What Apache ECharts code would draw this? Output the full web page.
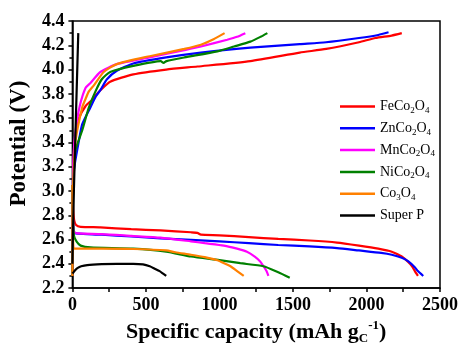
<!DOCTYPE html>
<html>
<head>
<meta charset="utf-8">
<script src="https://cdn.jsdelivr.net/npm/echarts@6/dist/echarts.min.js"></script>
<style>
  html, body { margin: 0; padding: 0; background: #fff; }
  #chart { width: 461px; height: 350px; }
</style>
</head>
<body>
<div id="chart"></div>
<script>
// [capacity, potential] pairs
var feDischarge = [[0,3.05],[2,2.95],[5,2.85],[12,2.76],[25,2.72],[56,2.705],[190,2.70],[400,2.685],[600,2.675],[806,2.66],[850,2.655],[874,2.64],[1000,2.635],[1200,2.62],[1400,2.605],[1613,2.592],[1800,2.575],[1949,2.55],[2080,2.525],[2172,2.50],[2240,2.46],[2280,2.42],[2310,2.38],[2329,2.34],[2350,2.30]];
var feCharge = [[0,2.3],[3,2.9],[8,3.2],[20,3.45],[45,3.6],[90,3.7],[134,3.75],[160,3.79],[190,3.83],[257,3.9],[414,3.96],[638,4.0],[850,4.025],[1210,4.07],[1546,4.14],[1726,4.17],[1949,4.225],[2061,4.26],[2171,4.28],[2240,4.30]];

var znDischarge = [[0,3.05],[3,2.8],[8,2.68],[15,2.655],[40,2.648],[200,2.64],[400,2.625],[600,2.61],[806,2.598],[1000,2.585],[1200,2.57],[1400,2.555],[1613,2.544],[1800,2.53],[1949,2.51],[2100,2.49],[2172,2.475],[2240,2.45],[2285,2.42],[2330,2.37],[2350,2.34],[2386,2.30]];
var znCharge = [[0,2.3],[3,2.9],[8,3.15],[20,3.25],[45,3.42],[67,3.55],[123,3.69],[160,3.78],[190,3.83],[235,3.92],[302,3.99],[414,4.05],[638,4.1],[874,4.14],[1210,4.18],[1546,4.21],[1725,4.225],[1949,4.26],[2080,4.285],[2150,4.307]];

var mnDischarge = [[0,3.05],[3,2.8],[8,2.68],[15,2.66],[40,2.65],[200,2.645],[400,2.63],[600,2.615],[806,2.585],[900,2.57],[1030,2.55],[1120,2.525],[1187,2.50],[1240,2.46],[1277,2.42],[1300,2.38],[1320,2.34],[1333,2.30]];
var mnCharge = [[0,2.3],[3,3.0],[8,3.3],[22,3.5],[50,3.7],[90,3.85],[123,3.89],[190,3.98],[302,4.045],[526,4.10],[761,4.16],[874,4.19],[1053,4.246],[1120,4.27],[1176,4.30]];

var niDischarge = [[0,3.05],[3,2.8],[11,2.63],[30,2.58],[56,2.55],[123,2.535],[414,2.525],[638,2.50],[806,2.46],[1000,2.43],[1142,2.405],[1299,2.38],[1400,2.33],[1478,2.285]];
var niCharge = [[0,2.3],[3,2.9],[10,3.15],[22,3.34],[67,3.5],[110,3.68],[157,3.82],[200,3.92],[257,3.98],[414,4.03],[600,4.07],[620,4.055],[640,4.07],[761,4.10],[986,4.15],[1100,4.19],[1210,4.23],[1280,4.27],[1326,4.30]];

var coDischarge = [[0,3.05],[3,2.7],[6,2.55],[11,2.525],[200,2.525],[414,2.522],[638,2.51],[700,2.495],[806,2.475],[900,2.455],[986,2.43],[1040,2.40],[1075,2.38],[1120,2.34],[1165,2.30]];
var coCharge = [[0,2.3],[3,2.9],[10,3.2],[22,3.42],[67,3.69],[90,3.76],[112,3.82],[146,3.87],[213,3.98],[302,4.045],[526,4.11],[761,4.17],[874,4.205],[960,4.25],[1035,4.30]];

var spDischarge = [[0,2.32],[7,2.33],[20,2.35],[34,2.365],[60,2.38],[101,2.39],[200,2.397],[302,2.40],[414,2.40],[480,2.395],[526,2.38],[560,2.36],[593,2.34],[638,2.30]];
var spCharge = [[0,2.4],[10,3.0],[40,4.3]];

var names = ['FeCo2O4', 'ZnCo2O4', 'MnCo2O4', 'NiCo2O4', 'Co3O4', 'Super P'];
var colors = ['#ff0000', '#0000ff', '#ff00ff', '#008000', '#ff8000', '#000000'];
var curves = [
  [feDischarge, feCharge],
  [znDischarge, znCharge],
  [mnDischarge, mnCharge],
  [niDischarge, niCharge],
  [coDischarge, coCharge],
  [spDischarge, spCharge]
];
var legendLabels = {
  'FeCo2O4': 'FeCo{s|2}O{s|4}',
  'ZnCo2O4': 'ZnCo{s|2}O{s|4}',
  'MnCo2O4': 'MnCo{s|2}O{s|4}',
  'NiCo2O4': 'NiCo{s|2}O{s|4}',
  'Co3O4': 'Co{s|3}O{s|4}',
  'Super P': 'Super P'
};

var serif = '"Liberation Serif", "Times New Roman", serif';

var series = [];
curves.forEach(function (pair, i) {
  pair.forEach(function (d) {
    series.push({
      name: names[i],
      type: 'line',
      data: d,
      symbol: 'none',
      smooth: 0.2,
      lineStyle: { color: colors[i], width: 2.2 },
      itemStyle: { color: colors[i] }
    });
  });
});

var chart = echarts.init(document.getElementById('chart'));
chart.setOption({
  animation: false,
  backgroundColor: '#fff',
  grid: {
    left: 70, right: 19, top: 21, bottom: 54,
    show: true, borderColor: '#000', borderWidth: 1.5
  },
  legend: {
    orient: 'vertical',
    left: 335, top: 93,
    icon: 'rect',
    itemWidth: 35, itemHeight: 2.5, itemGap: 4.8,
    data: names,
    formatter: function (n) { return legendLabels[n]; },
    textStyle: {
      fontFamily: serif, fontSize: 14, color: '#000',
      lineHeight: 17, verticalAlign: 'middle',
      rich: { s: { fontFamily: serif, fontSize: 9, lineHeight: 9, verticalAlign: 'bottom' } }
    }
  },
  xAxis: {
    type: 'value', min: 0, max: 2500, interval: 500,
    name: 'Specific capacity (mAh g{sub|C}{sup|-1})',
    nameLocation: 'middle', nameGap: 28,
    nameTextStyle: {
      fontFamily: serif, fontWeight: 'bold', fontSize: 22, color: '#000',
      lineHeight: 26, verticalAlign: 'middle',
      rich: {
        sub: { fontFamily: serif, fontWeight: 'bold', fontSize: 13, lineHeight: 13, verticalAlign: 'bottom' },
        sup: { fontFamily: serif, fontWeight: 'bold', fontSize: 13, lineHeight: 13, verticalAlign: 'top' }
      }
    },
    axisLine: { lineStyle: { color: '#000', width: 1.5 } },
    axisTick: { length: 4, lineStyle: { color: '#000', width: 1.5 } },
    minorTick: { show: true, splitNumber: 2, length: 4, lineStyle: { color: '#000', width: 1.5 } },
    splitLine: { show: false },
    axisLabel: {
      margin: 8, fontFamily: serif, fontWeight: 'bold', fontSize: 18, color: '#000',
      formatter: function (v) { return String(v); }
    }
  },
  yAxis: {
    type: 'value', min: 2.2, max: 4.4, interval: 0.2,
    name: 'Potential (V)',
    nameLocation: 'middle', nameGap: 36,
    nameTextStyle: {
      fontFamily: serif, fontWeight: 'bold', fontSize: 23, color: '#000',
      padding: [0, 0, 0, 22]
    },
    axisLine: { lineStyle: { color: '#000', width: 1.5 } },
    axisTick: { length: 4, lineStyle: { color: '#000', width: 1.5 } },
    minorTick: { show: true, splitNumber: 2, length: 3, lineStyle: { color: '#000', width: 1.5 } },
    splitLine: { show: false },
    axisLabel: {
      margin: 8, fontFamily: serif, fontWeight: 'bold', fontSize: 18, color: '#000',
      formatter: function (v) { return v.toFixed(1); }
    }
  },
  series: series
});
</script>
</body>
</html>
